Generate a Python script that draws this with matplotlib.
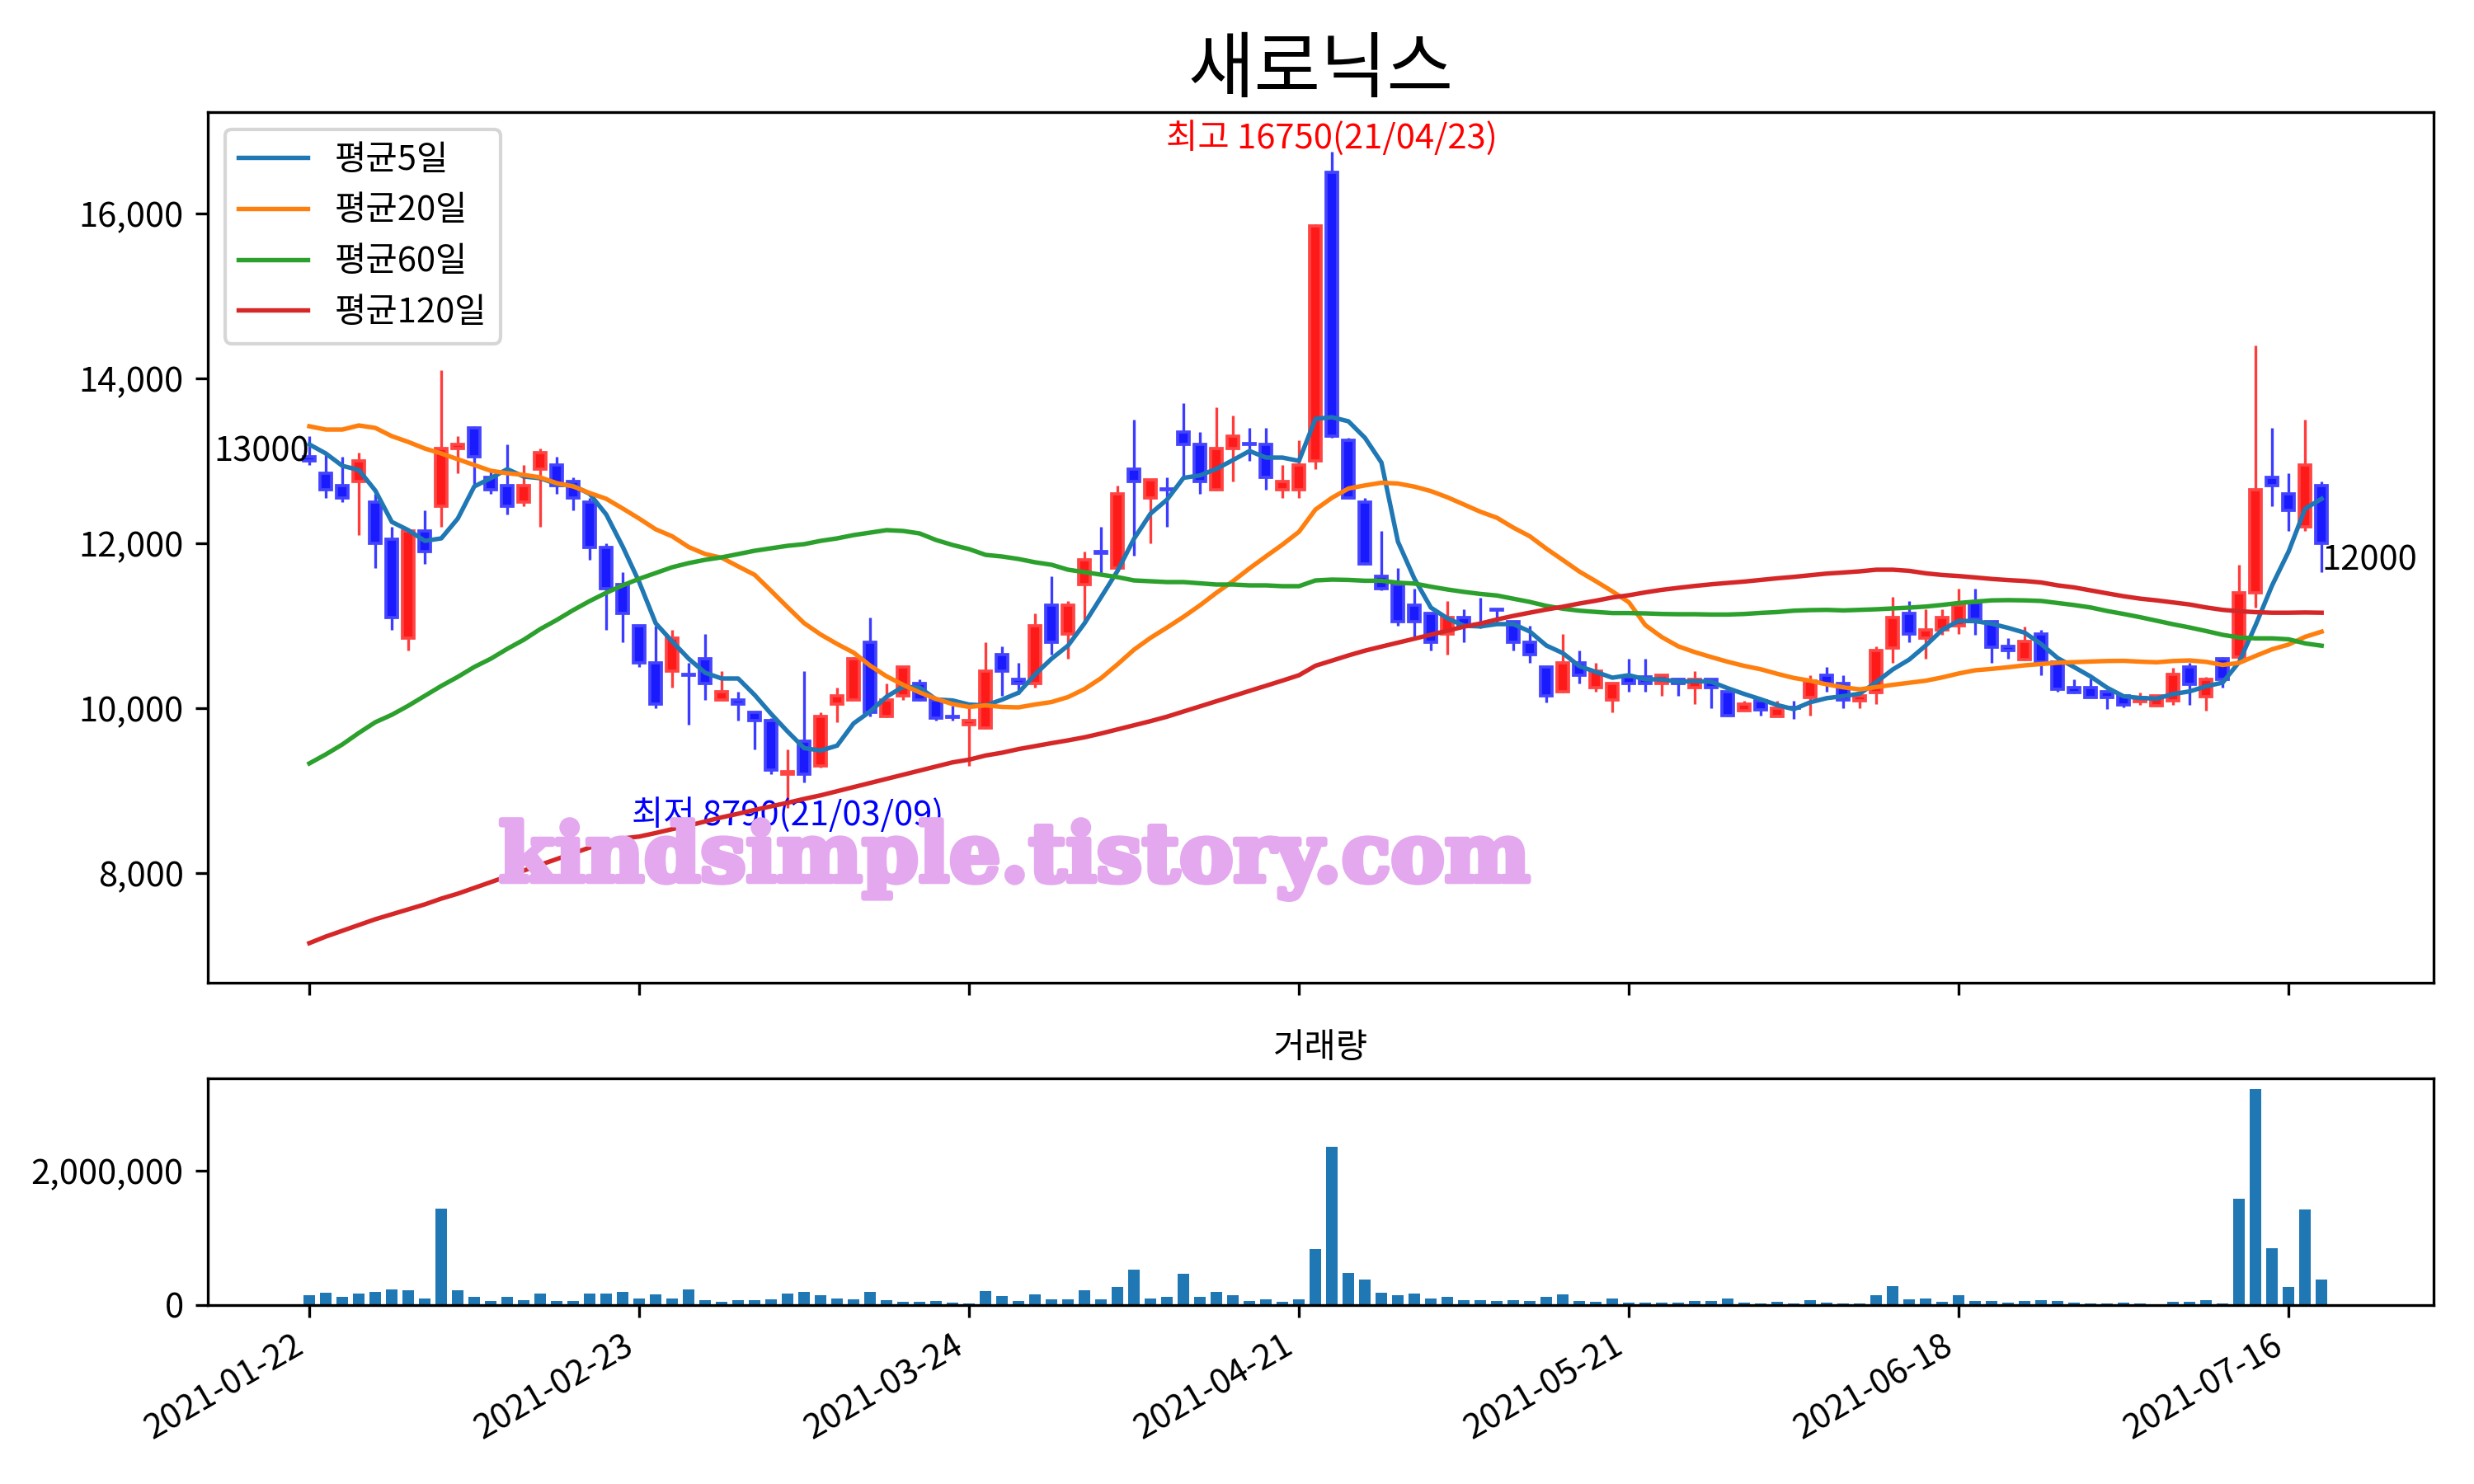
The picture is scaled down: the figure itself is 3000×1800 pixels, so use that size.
import matplotlib
matplotlib.use('Agg')
import matplotlib.pyplot as plt
import matplotlib.patheffects as pe
from matplotlib.ticker import FuncFormatter
import numpy as np
import pandas as pd

plt.rcParams['font.family'] = ['Noto Sans CJK KR', 'DejaVu Sans']
plt.rcParams['axes.unicode_minus'] = False

title = '새로닉스'
opens = [13050, 12850, 12700, 12750, 12500, 12050, 10850, 12150, 12450, 13150,
         13400, 12800, 12700, 12500, 12900, 12950, 12750, 12500, 11950, 11500,
         11000, 10550, 10450, 10410, 10600, 10100, 10100, 9950, 9850, 9200,
         9600, 9300, 10050, 10100, 10800, 9900, 10150, 10300, 10100, 9900,
         9800, 9760, 10650, 10350, 10300, 11250, 10900, 11500, 11900, 11700,
         12900, 12550, 12660, 13350, 13200, 12650, 13150, 13210, 13200, 12650,
         12650, 13000, 16500, 13250, 12500, 11600, 11500, 11250, 11150, 10900,
         11100, 11020, 11200, 11050, 10800, 10500, 10200, 10550, 10250, 10100,
         10380, 10380, 10300, 10350, 10250, 10350, 10200, 9970, 10090, 9900,
         10010, 10130, 10400, 10300, 10090, 10190, 10730, 11150, 10850, 10950,
         11000, 11280, 11050, 10750, 10590, 10900, 10560, 10250, 10250, 10200,
         10150, 10080, 10030, 10090, 10500, 10140, 10600, 10620, 11400, 12800,
         12600, 12200, 12700]
highs = [13300, 13100, 13050, 13100, 12600, 12200, 12150, 12400, 14100, 13300,
         13420, 12900, 13200, 12950, 13150, 13050, 12800, 12550, 12000, 11650,
         11000, 11000, 10950, 10550, 10900, 10450, 10200, 9950, 9880, 9500,
         10450, 9950, 10250, 10620, 11100, 10300, 10500, 10350, 10110, 10030,
         10000, 10800, 10750, 10550, 11150, 11600, 11300, 11900, 12200, 12700,
         13500, 12770, 12800, 13700, 13350, 13650, 13550, 13400, 13400, 12950,
         13250, 15870, 16750, 13280, 12550, 12150, 11700, 11450, 11160, 11300,
         11200, 11340, 11200, 11050, 11000, 10510, 10900, 10700, 10550, 10310,
         10600, 10600, 10410, 10360, 10450, 10360, 10210, 10090, 10130, 10090,
         10090, 10400, 10500, 10400, 10180, 10750, 11350, 11300, 11200, 11200,
         11450, 11450, 11060, 10850, 10990, 10950, 10570, 10350, 10360, 10220,
         10170, 10190, 10160, 10490, 10550, 10380, 10620, 11740, 14400, 13400,
         12850, 13500, 12750]
lows = [12950, 12550, 12500, 12100, 11700, 10950, 10700, 11750, 12200, 12850,
        12700, 12600, 12350, 12450, 12200, 12600, 12400, 11800, 10950, 10800,
        10500, 10000, 10250, 9800, 10100, 10100, 9850, 9500, 9200, 8790,
        9100, 9280, 9830, 10100, 9900, 9890, 10100, 10090, 9850, 9850,
        9300, 9750, 10150, 10170, 10250, 10650, 10600, 11050, 11630, 11680,
        11850, 12000, 12200, 12800, 12600, 12640, 12750, 13000, 12650, 12550,
        12550, 12900, 13280, 12550, 11740, 11430, 11000, 10850, 10700, 10650,
        10800, 10970, 11040, 10700, 10550, 10070, 10190, 10300, 10200, 9950,
        10200, 10200, 10150, 10150, 10050, 10000, 9900, 9970, 9910, 9900,
        9870, 9910, 10200, 10000, 10000, 10050, 10550, 10800, 10600, 10890,
        10900, 10890, 10550, 10600, 10580, 10400, 10200, 10180, 10130, 9990,
        10010, 10040, 10020, 10040, 10040, 9970, 10250, 10600, 11220, 12450,
        12150, 12150, 11650]
closes = [13000, 12650, 12550, 13000, 12000, 11100, 12150, 11900, 13150, 13200,
          13050, 12650, 12450, 12700, 13100, 12700, 12550, 11950, 11450, 11150,
          10550, 10050, 10850, 10400, 10300, 10200, 10050, 9850, 9250, 9230,
          9200, 9900, 10150, 10600, 9950, 10100, 10500, 10100, 9880, 9890,
          9850, 10450, 10450, 10300, 11000, 10800, 11250, 11800, 11880, 12600,
          12750, 12770, 12650, 13200, 12750, 13150, 13300, 13200, 12800, 12750,
          12950, 15850, 13300, 12550, 11750, 11450, 11050, 11050, 10800, 11100,
          11000, 11010, 11190, 10800, 10650, 10150, 10550, 10400, 10450, 10300,
          10300, 10300, 10400, 10300, 10350, 10250, 9910, 10050, 9980, 10000,
          10000, 10330, 10300, 10100, 10150, 10700, 11100, 10900, 10950, 11100,
          11250, 11080, 10740, 10700, 10810, 10560, 10230, 10190, 10130, 10130,
          10040, 10130, 10150, 10410, 10290, 10350, 10350, 11400, 12650, 12700,
          12400, 12950, 12000]
volumes = [143000, 180000, 119000, 168000, 192000, 229000, 217000, 94000, 1431000, 217000,
           119000, 57000, 119000, 70000, 168000, 57000, 57000, 168000, 168000, 192000,
           94000, 155000, 94000, 229000, 70000, 45000, 70000, 70000, 82000, 168000,
           192000, 143000, 94000, 82000, 192000, 70000, 45000, 45000, 57000, 33000,
           20000, 204000, 131000, 57000, 155000, 82000, 82000, 217000, 82000, 266000,
           524000, 94000, 119000, 462000, 119000, 192000, 143000, 57000, 82000, 45000,
           82000, 830000, 2352000, 474000, 376000, 180000, 143000, 168000, 94000, 119000,
           70000, 70000, 57000, 70000, 57000, 119000, 155000, 57000, 45000, 94000,
           33000, 33000, 33000, 33000, 57000, 57000, 94000, 33000, 20000, 45000,
           20000, 70000, 33000, 20000, 20000, 143000, 278000, 82000, 94000, 45000,
           143000, 57000, 57000, 33000, 57000, 70000, 57000, 33000, 20000, 20000,
           33000, 20000, 8000, 45000, 45000, 70000, 20000, 1579000, 3210000, 843000,
           266000, 1419000, 376000]
ma5_head = [13200, 13090, 12940, 12890]
ma20_head = [13420, 13380, 13380, 13430, 13400, 13300, 13230, 13150, 13090, 13020,
             12950, 12880, 12850, 12830, 12800, 12730, 12690, 12610, 12540]
ma60 = [9330, 9440, 9560, 9700, 9830, 9920, 10030, 10150, 10270, 10380,
        10500, 10600, 10720, 10830, 10960, 11070, 11190, 11300, 11400, 11490,
        11570, 11640, 11710, 11760, 11800, 11830, 11870, 11910, 11940, 11970,
        11990, 12030, 12060, 12100, 12130, 12160, 12150, 12120, 12040, 11980,
        11930, 11860, 11840, 11810, 11770, 11740, 11680, 11650, 11620, 11590,
        11550, 11540, 11530, 11530, 11515, 11500, 11500, 11490, 11490, 11480,
        11480, 11550, 11560, 11556, 11546, 11546, 11522, 11512, 11474, 11440,
        11411, 11386, 11367, 11328, 11289, 11241, 11207, 11183, 11168, 11154,
        11154, 11150, 11143, 11140, 11140, 11136, 11136, 11143, 11156, 11166,
        11183, 11190, 11193, 11186, 11193, 11200, 11210, 11220, 11233, 11253,
        11276, 11293, 11308, 11311, 11308, 11301, 11276, 11251, 11222, 11179,
        11143, 11104, 11061, 11018, 10979, 10936, 10890, 10858, 10847, 10847,
        10836, 10786, 10758]
ma120 = [7150, 7230, 7300, 7370, 7440, 7500, 7560, 7620, 7690, 7750,
         7820, 7890, 7960, 8030, 8100, 8170, 8240, 8310, 8370, 8420,
         8443, 8486, 8533, 8576, 8626, 8676, 8720, 8766, 8810, 8853,
         8900, 8943, 8993, 9043, 9093, 9143, 9193, 9243, 9293, 9343,
         9376, 9426, 9460, 9504, 9540, 9576, 9610, 9647, 9693, 9743,
         9793, 9843, 9897, 9960, 10022, 10085, 10147, 10210, 10272, 10335,
         10400, 10515, 10577, 10640, 10698, 10747, 10795, 10843, 10892, 10940,
         10989, 11027, 11076, 11120, 11159, 11197, 11231, 11270, 11304, 11343,
         11370, 11405, 11436, 11460, 11483, 11503, 11520, 11536, 11556, 11576,
         11593, 11613, 11633, 11646, 11660, 11680, 11680, 11666, 11636, 11616,
         11603, 11586, 11568, 11554, 11543, 11525, 11490, 11465, 11429, 11393,
         11358, 11329, 11308, 11283, 11258, 11222, 11193, 11176, 11165, 11158,
         11158, 11161, 11158]
tick_pos = [0, 20, 40, 60, 80, 100, 120]
tick_labels = ['2021-01-22', '2021-02-23', '2021-03-24', '2021-04-21',
               '2021-05-21', '2021-06-18', '2021-07-16']
high_date = '21/04/23'
low_date = '21/03/09'
ma_labels = ['평균5일', '평균20일', '평균60일', '평균120일']

o = np.array(opens, dtype=float)
h = np.array(highs, dtype=float)
l = np.array(lows, dtype=float)
c = np.array(closes, dtype=float)
n = len(c)
x = np.arange(n)

cs = pd.Series(c)
ma5 = cs.rolling(5).mean().to_numpy()
ma5[:4] = ma5_head
ma20 = cs.rolling(20).mean().to_numpy()
ma20[:19] = ma20_head

fig = plt.figure(figsize=(10, 6), dpi=300)
L, R = 0.0839, 0.9836
ax = fig.add_axes([L, 0.3378, R - L, 0.9244 - 0.3378])
axv = fig.add_axes([L, 0.1207, R - L, 0.2732 - 0.1207], sharex=ax)

up = c > o
body_col = np.where(up, '#ff1a1a', '#1a1aff')
edge_col = np.where(up, '#ff4444', '#4444ff')
wick_col = np.where(up, '#ff3c3c', '#3c3cff')
ax.vlines(x, l, h, colors=wick_col, linewidth=0.8, zorder=2)
ax.bar(x, np.maximum(np.abs(c - o), 1), bottom=np.minimum(o, c), width=0.72,
       color=body_col, edgecolor=edge_col, linewidth=0.9, zorder=3)

lw = 1.3
ax.plot(x, ma5, color='C0', lw=lw, label=ma_labels[0], zorder=4)
ax.plot(x, ma20, color='C1', lw=lw, label=ma_labels[1], zorder=4)
ax.plot(x, ma60, color='C2', lw=lw, label=ma_labels[2], zorder=4)
ax.plot(x, ma120, color='C3', lw=lw, label=ma_labels[3], zorder=4)
ax.legend(loc='upper left')

imax = int(np.argmax(h))
imin = int(np.argmin(l))
ax.text(imax, h[imax] * 1.01, f'최고 {int(h[imax])}({high_date})', color='red',
        ha='center', va='center', fontsize=10)
ax.text(imin, l[imin] * 0.99, f'최저 {int(l[imin])}({low_date})', color='blue',
        ha='center', va='center', fontsize=10)
ax.text(0, c[0], f'{int(c[0])}', ha='right', fontsize=10)
ax.text(n - 1, c[-1], f'{int(c[-1])}', ha='left', va='top', fontsize=10)

ax.set_title(title, fontsize=21)
ax.set_xlim(-6.17, 128.78)
ax.set_ylim(6670, 17230)
ax.set_yticks([8000, 10000, 12000, 14000, 16000])
ax.yaxis.set_major_formatter(FuncFormatter(lambda v, p: f'{int(v):,}'))
ax.tick_params(labelbottom=False)

axv.bar(x, volumes, width=0.7, color='C0')
axv.set_title('거래량', fontsize=10)
axv.set_ylim(0, 3370000)
axv.set_yticks([0, 2000000])
axv.yaxis.set_major_formatter(FuncFormatter(lambda v, p: f'{int(v):,}'))
axv.set_xticks(tick_pos)
axv.set_xticklabels(tick_labels, rotation=30, ha='right')

wm_color = '#e4a8ee'
fig.text(0.41, 0.4206, 'kindsimple.tistory.com', fontsize=23.5, family='DejaVu Serif',
         weight='bold', color=wm_color, ha='center', va='center', zorder=10,
         path_effects=[pe.withStroke(linewidth=1.6, foreground=wm_color)])

fig.savefig('out.png', dpi=300)
